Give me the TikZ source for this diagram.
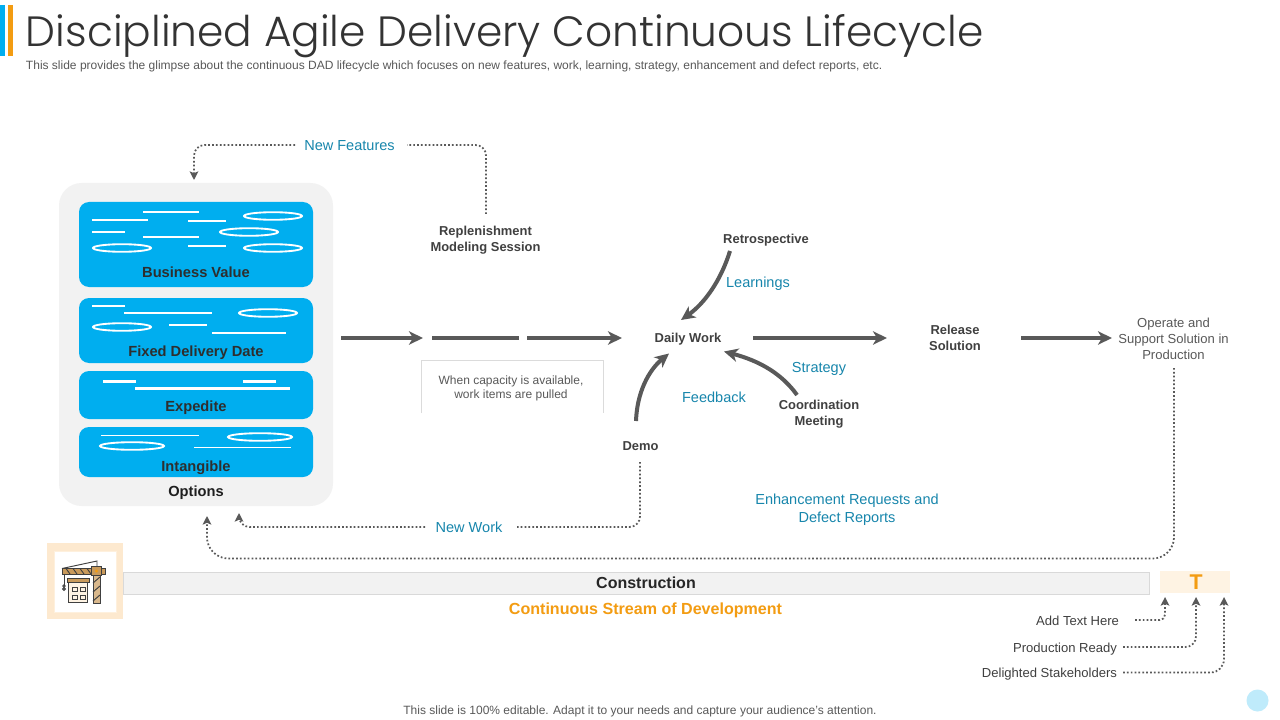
\documentclass[tikz,border=0pt]{standalone}
\usepackage{fontspec}
\setmainfont{Liberation Sans}
\newfontfamily\titlefont{Poppins Light}
\usetikzlibrary{arrows.meta,calc}
\definecolor{panel}{HTML}{F2F2F2}
\definecolor{skyb}{HTML}{00AEEF}
\definecolor{darkg}{HTML}{595959}
\definecolor{labb}{HTML}{1786AC}
\definecolor{orng}{HTML}{F39C12}
\definecolor{peach}{HTML}{FDE9CF}
\definecolor{peachl}{HTML}{FEF3E3}
\definecolor{ink}{HTML}{404040}
\definecolor{crane}{HTML}{C99A5B}
\tikzset{
 x=0.75pt,y=-0.75pt,
 every node/.style={inner sep=0pt,outer sep=0pt},
 bluebox/.style={fill=skyb,rounded corners=7.5pt,draw=none},
 wl/.style={draw=white,line width=1.2pt},
 wlt/.style={draw=white,line width=2pt},
 wlh/.style={draw=white,line width=0.8pt},
 wel/.style={draw=white,line width=1.4pt,fill=none},
 boxlab/.style={font=\fontsize{11}{13}\selectfont\bfseries,text=black!82},
 stage/.style={font=\fontsize{9.7}{12}\selectfont\bfseries,text=ink,align=center},
 flowlab/.style={font=\fontsize{10.9}{13.5}\selectfont,text=labb,align=center},
 plainlab/.style={font=\fontsize{9.8}{12}\selectfont,text=ink,align=center},
 thick arrow/.style={draw=darkg,line width=3pt,-{Stealth[length=10.5pt,width=10pt,inset=3pt]}},
 thick seg/.style={draw=darkg,line width=3pt},
 dot/.style={draw=darkg,line width=1.3pt,dash pattern=on 1.3pt off 1.6pt},
 dota/.style={dot,-{Stealth[length=6.5pt,width=6.5pt,inset=1.5pt]},rounded corners=8pt},
}
\begin{document}
\begin{tikzpicture}
\useasboundingbox (0,0) rectangle (1280,720);
\fill[white] (0,0) rectangle (1280,720);
% accent
\fill[skyb] (0,5) rectangle (4.7,56);
\fill[orng] (8.3,5) rectangle (13,56);
\node[anchor=west,font=\fontsize{31.75}{36}\selectfont\titlefont,text=black!80] (title) at (26,36.5) {Disciplined Agile Delivery Continuous Lifecycle};
\node[anchor=west,font=\fontsize{9}{11}\selectfont,text=darkg] (sub) at (26,66) {This slide provides the glimpse about the continuous DAD lifecycle which focuses on new features, work, learning, strategy, enhancement and defect reports, etc.};
% options panel
\fill[panel,rounded corners=17pt] (59,183) rectangle (333,506);
\fill[bluebox] (79,202) rectangle (313,287);
\fill[bluebox] (79,298) rectangle (313,363);
\fill[bluebox] (79,371) rectangle (313,419);
\fill[bluebox] (79,427) rectangle (313,477);
% business value marks
\draw[wl] (92,220)--(148,220) (143,212)--(199,212) (188,221)--(226,221) (92,232)--(125,232) (143,237)--(199,237) (188,246)--(226,246);
\draw[wel] (273,216) ellipse [x radius=29,y radius=3.8];
\draw[wel] (249,232) ellipse [x radius=29,y radius=3.8];
\draw[wel] (122,248) ellipse [x radius=29,y radius=3.8];
\draw[wel] (273,248) ellipse [x radius=29,y radius=3.8];
% fixed
\draw[wl] (92,306)--(125,306) (124,313)--(212,313) (169,325)--(207,325) (212,333)--(286,333);
\draw[wel] (268,313) ellipse [x radius=29,y radius=3.8];
\draw[wel] (122,327) ellipse [x radius=29,y radius=3.8];
% expedite
\draw[wlt] (103,381.3)--(136,381.3) (243,381.3)--(276,381.3) (135,388.3)--(290,388.3);
% intangible
\draw[wlh] (101,435.3)--(199,435.3) (194,447.3)--(291,447.3);
\draw[wel] (260,437) ellipse [x radius=32,y radius=3.8];
\draw[wel] (132,446) ellipse [x radius=32,y radius=3.8];
\node[boxlab] (bv) at (196,272) {Business Value};
\node[boxlab] (fd) at (196,353) {Fixed Delivery Date};
\node[boxlab] (ex) at (196,407.5) {Expedite};
\node[boxlab] (in) at (196,467.5) {Intangible};
\node[boxlab,text=black!88] (op) at (196,492.5) {Options};
% stage labels
\node[stage] (repl) at (485.5,240) {Replenishment\\Modeling Session};
\node[stage] (retro) at (766,240) {Retrospective};
\node[stage] (daily) at (688,339.5) {Daily Work};
\node[stage] (rel) at (955,337.5) {Release\\Solution};
\node[stage] (coord) at (819,414) {Coordination\\Meeting};
\node[stage] (demo) at (640.5,446) {Demo};
\node[plainlab,text=darkg] (ops) at (1173.5,338.5) {Operate and\\Support Solution in\\Production};
% flow labels
\node[flowlab] (nf) at (349.5,146) {New Features};
\node[flowlab] (nw) at (469,527) {New Work};
\node[flowlab] (lea) at (758,283.5) {Learnings};
\node[flowlab] (str) at (819,368.5) {Strategy};
\node[flowlab] (fb) at (714,397.5) {Feedback};
\node[flowlab] (enh) at (847,509.5) {Enhancement Requests and\\Defect Reports};
% capacity box
\draw[draw=black!14,line width=0.6pt] (421,413)--(421,360.5)--(603,360.5)--(603,413);
\node[font=\fontsize{9}{10.5}\selectfont,text=darkg,align=center] (cap) at (511,388) {When capacity is available,\\work items are pulled};
% thick flow
\coordinate (a1) at (341,338); \coordinate (a1e) at (423,338);
\coordinate (s1) at (432,338); \coordinate (s1e) at (519,338);
\coordinate (a2) at (527,338); \coordinate (a2e) at (622,338);
\coordinate (a3) at (753,338); \coordinate (a3e) at (887,338);
\coordinate (a4) at (1021,338); \coordinate (a4e) at (1112,338);
\draw[thick arrow] (a1)--(a1e);
\draw[thick seg] (s1)--(s1e);
\draw[thick arrow] (a2)--(a2e);
\draw[thick arrow] (a3)--(a3e);
\draw[thick arrow] (a4)--(a4e);
% curved
\coordinate (c1) at (730,251); \coordinate (c1e) at (681,320);
\coordinate (c2) at (797,395); \coordinate (c2e) at (724,351.5);
\coordinate (c3) at (636,421); \coordinate (c3e) at (669,353.5);
\draw[thick arrow] (c1) .. controls (721,280) and (705,303) .. (c1e);
\draw[thick arrow] (c2) .. controls (782,374) and (760,361) .. (c2e);
\draw[thick arrow] (c3) .. controls (637,392) and (649,370) .. (c3e);
% dotted top
\coordinate (rt) at (486,214);
\coordinate (nfr) at (407,145);
\coordinate (nfl) at (295,145);
\coordinate (optop) at (194,180);
\draw[dot,rounded corners=8pt] (rt)--(rt|-nfr)--(nfr);
\draw[dota] (nfl)--(optop|-nfl)--(optop);
% new work
\coordinate (dm) at (640,462);
\coordinate (nwr) at (517,527);
\coordinate (nwl) at (425,527);
\coordinate (opb1) at (239,513);
\draw[dot,rounded corners=8pt] (dm)--(dm|-nwr)--(nwr);
\draw[dota] (nwl)--(opb1|-nwl)--(opb1);
% long loop
\coordinate (os) at (1174,368);
\coordinate (loop) at (1174,558.5);
\coordinate (opb2) at (207,516);
\draw[dota,rounded corners=16pt] (os)--(loop)--(opb2|-loop)--(opb2);
% construction
\fill[peach] (47,543) rectangle (123,619);
\draw[fill=white,draw=peach!70!white,line width=0.5pt] (54,551) rectangle (116,612);
\draw[fill=panel,draw=black!15,line width=0.6pt] (123,572) rectangle (1149,594);
\node[font=\fontsize{12}{14}\selectfont\bfseries,text=black!85] (con) at (646,582.5) {Construction};
\node[font=\fontsize{12.05}{14}\selectfont\bfseries,text=orng] (cs) at (645.5,610.5) {Continuous Stream of Development};
\fill[peachl] (1160,571) rectangle (1230,593);
\node[font=\fontsize{16}{18}\selectfont\bfseries,text=orng] (T) at (1196,582.5) {T};
% crane icon
\begin{scope}[line width=0.7pt,draw=black!75]
\draw[fill=crane] (62,568.5) rectangle (105,574);
\draw (66,568.5)--(70,574)(73,568.5)--(77,574)(80,568.5)--(84,574)(87,568.5)--(91,574);
\draw[fill=crane!70!white] (93,574) rectangle (100,603);
\draw (93,583)--(100,577)(93,592)--(100,586)(93,601)--(100,595);
\draw[fill=crane] (91.5,566.5) rectangle (101.5,575);
\fill[orng] (96.5,571) circle (1.6);
\draw (62,568.5)--(97,561)--(97,566.5);
\draw (64,574)--(64,586);
\draw (64,586) circle (1.2) (64,589) circle (1.4);
\draw[fill=crane] (67,578) rectangle (89.5,582);
\draw[fill=peachl] (68.5,582) rectangle (87,602.5);
\draw (72,587) rectangle (77,591)(80,587) rectangle (85,591)(72,595) rectangle (77,599)(80,595) rectangle (85,599);
\end{scope}
% right labels
\node[plainlab,anchor=east] (at) at (1119,620.5) {Add Text Here};
\node[plainlab,anchor=east] (pr) at (1117,649.5) {Production Ready};
\node[plainlab,anchor=east] (ds) at (1117,674.5) {Delighted Stakeholders};
\coordinate (at1) at (1135,620); \coordinate (at2) at (1165,597);
\coordinate (pr1) at (1123,647); \coordinate (pr2) at (1196,597);
\coordinate (ds1) at (1123,672.5); \coordinate (ds2) at (1224,597);
\draw[dota,rounded corners=4pt] (at1)--(at2|-at1)--(at2);
\draw[dota] (pr1)--(pr2|-pr1)--(pr2);
\draw[dota,rounded corners=10pt] (ds1)--(ds2|-ds1)--(ds2);
% footer
\node[font=\fontsize{9}{11}\selectfont,text=darkg] (foot) at (640,711) {This slide is 100\% editable. Adapt it to your needs and capture your audience's attention.};
\fill[skyb!25] (1257.5,700.5) circle (11);
\end{tikzpicture}
\end{document}
